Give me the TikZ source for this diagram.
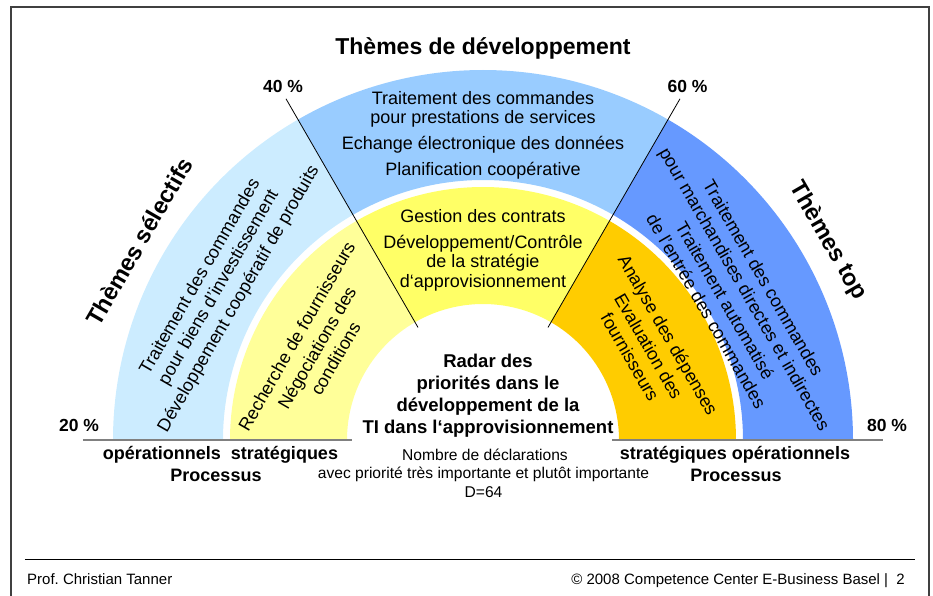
\documentclass[tikz,border=0pt]{standalone}
\usepackage{fontspec}
\setmainfont{Liberation Sans}
\usepackage{tikz}

\definecolor{selblue}{RGB}{204,236,255}
\definecolor{devblue}{RGB}{153,204,255}
\definecolor{topblue}{RGB}{102,153,255}
\definecolor{selyellow}{RGB}{255,255,153}
\definecolor{devyellow}{RGB}{255,255,102}
\definecolor{toporange}{RGB}{255,204,0}

\tikzset{
  bandtext/.style={align=center, inner sep=0pt, font=\fontsize{18}{21.5}\selectfont},
  boldlabel/.style={anchor=base, inner sep=0pt, font=\bfseries\fontsize{18}{20}\selectfont},
  pctlabel/.style={anchor=base, inner sep=0pt, font=\bfseries\fontsize{17.5}{20}\selectfont},
  themelabel/.style={inner sep=0pt, font=\bfseries\fontsize{23.5}{26}\selectfont},
  smalltext/.style={anchor=base, inner sep=0pt, font=\fontsize{15.6}{18}\selectfont},
  foottext/.style={inner sep=0pt, font=\fontsize{15}{18}\selectfont},
}

\begin{document}
\begin{tikzpicture}[x=1pt,y=1pt]
\useasboundingbox (-483,-156) rectangle (450,440);
\draw[black!75, line width=2pt] (-472,-160) -- (-472,432.5) -- (446,432.5) -- (446,-160);

% outer band
\fill[selblue] (180:370) arc[start angle=180,end angle=120,radius=370] -- (120:260) arc[start angle=120,end angle=180,radius=260] -- cycle;
\fill[devblue] (120:370) arc[start angle=120,end angle=60,radius=370] -- (60:260) arc[start angle=60,end angle=120,radius=260] -- cycle;
\fill[topblue] (60:370) arc[start angle=60,end angle=0,radius=370] -- (0:260) arc[start angle=0,end angle=60,radius=260] -- cycle;
% inner band
\fill[selyellow] (180:253) arc[start angle=180,end angle=120,radius=253] -- (120:136) arc[start angle=120,end angle=180,radius=136] -- cycle;
\fill[devyellow] (120:253) arc[start angle=120,end angle=60,radius=253] -- (60:136) arc[start angle=60,end angle=120,radius=136] -- cycle;
\fill[toporange] (60:253) arc[start angle=60,end angle=0,radius=253] -- (0:136) arc[start angle=0,end angle=60,radius=136] -- cycle;

\draw[line width=0.8pt] (120:130) -- (120:394);
\draw[line width=0.8pt] (60:130) -- (60:394);
\draw[gray, line width=2pt] (-400,0) -- (-131,0);
\draw[gray, line width=2pt] (129,0) -- (400,0);

\node[anchor=base, inner sep=0pt, font=\bfseries\fontsize{23}{26}\selectfont] (title) at (0,385) {Thèmes de développement};
\node[pctlabel] (p40) at (-200,347) {40 \%};
\node[pctlabel] (p60) at (204.5,347) {60 \%};
\node[pctlabel] (p20) at (-404,8) {20 \%};
\node[pctlabel] (p80) at (404,8) {80 \%};

\node[themelabel, rotate=60] (thsel) at (150:397) {Thèmes sélectifs};
\node[themelabel, rotate=-60] (thtop) at (30:398) {Thèmes top};

\node[bandtext, rotate=60] (selout) at (150:304) {Traitement des commandes\\pour biens d'investissement\\[1.5pt]Développement coopératif de produits};
\node[bandtext, rotate=60] (selin) at (151:191) {Recherche de fournisseurs\\[2pt]Négociations des\\conditions};
\node[bandtext, font=\fontsize{18}{19.5}\selectfont] (devout) at (0,305) {Traitement des commandes\\pour prestations de services\\[6.3pt]Echange électronique des données\\[6.3pt]Planification coopérative};
\node[bandtext, font=\fontsize{18}{19.5}\selectfont] (devin) at (0,190) {Gestion des contrats\\[6.6pt]Développement/Contrôle\\de la stratégie\\d‘approvisionnement};
\node[bandtext, rotate=-60] (topout) at (30:291) {Traitement des commandes\\pour marchandises directes et indirectes\\[1.5pt]Traitement automatisé\\de l'entrée des commandes};
\node[bandtext, rotate=-60] (topin) at (29.5:191) {Analyse des dépenses\\[1pt]Evaluation des\\fournisseurs};

\node[align=center, inner sep=0pt, font=\bfseries\fontsize{18.5}{22}\selectfont] (radar) at (5,44.7) {Radar des\\priorités dans le\\développement de la\\TI dans l‘approvisionnement};

\node[boldlabel] (procl) at (-262.5,-20) {opérationnels~~stratégiques};
\node[boldlabel] (procltit) at (-267,-41.7) {Processus};
\node[boldlabel] (procr) at (252,-20) {stratégiques opérationnels};
\node[boldlabel] (procrtit) at (253,-41.7) {Processus};

\node[smalltext] (decl) at (2,-20.7) {Nombre de déclarations};
\node[smalltext] (prio) at (0.5,-39) {avec priorité très importante et plutôt importante};
\node[smalltext] (total) at (0.5,-58) {D=64};

\draw[line width=1pt] (-458,-119) -- (432,-119);
\node[foottext, anchor=base west] (author) at (-456,-144) {Prof.\ Christian Tanner};
\node[foottext, anchor=base east] (copyr) at (422,-144) {© 2008 Competence Center E-Business Basel |~~2};
\end{tikzpicture}
\end{document}
